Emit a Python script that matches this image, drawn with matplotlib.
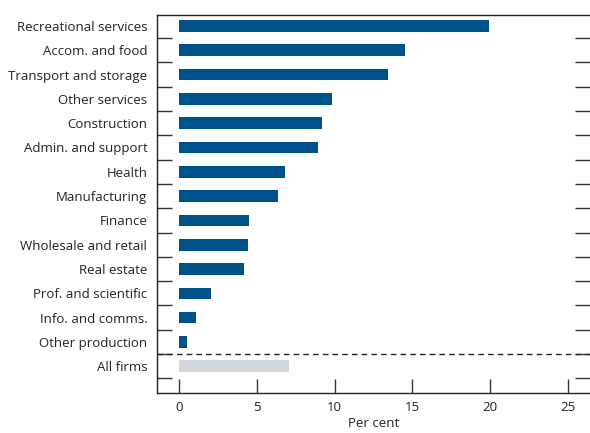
import matplotlib
matplotlib.use("Agg")
import matplotlib.pyplot as plt
import numpy as np

categories = ["Recreational services", "Accom. and food", "Transport and storage",
              "Other services", "Construction", "Admin. and support", "Health",
              "Manufacturing", "Finance", "Wholesale and retail", "Real estate",
              "Prof. and scientific", "Info. and comms.", "Other production", "All firms"]
values = [19.9, 14.5, 13.45, 9.85, 9.2, 8.95, 6.8, 6.35, 4.5, 4.45, 4.2, 2.05, 1.1, 0.5, 7.05]
xticks = [0, 5, 10, 15, 20, 25]

plt.rcParams['font.family'] = ['Open Sans', 'DejaVu Sans']

fig = plt.figure(figsize=(5.9, 4.33), dpi=100)
ax = fig.add_axes([157/590, 1-393/433, 1-157/590, (393-15)/433])

n = len(categories)
pos = np.arange(n)
colors = ['#00528A'] * (n - 1) + ['#D1D7DC']
ax.barh(pos, values, height=0.48, color=colors, zorder=2)

ax.set_ylim(n - 1 + 1.1, -0.45)
ax.set_xlim(-1.4, 26.4)

ax.set_yticks(pos, labels=categories)
ax.tick_params(axis='y', which='major', length=0, pad=7, labelsize=9.5, colors='#222222')
ax.set_yticks(pos + 0.5, minor=True)
ax.tick_params(axis='y', which='minor', direction='in', length=11, width=1.0,
               left=True, right=True, color='#333333')

ax.set_xticks(xticks)
ax.set_xticklabels([str(t) for t in xticks])
ax.tick_params(axis='x', direction='in', length=10, width=1.0, labelsize=9.5,
               pad=6, colors='#222222', color='#333333')
ax.set_xlabel('Per cent', fontsize=9.5, color='#222222', labelpad=2)

ax.axhline(n - 1.5, color='#222222', lw=1.0, ls=(0, (4, 3)), zorder=3)

for s in ['left', 'bottom', 'top']:
    ax.spines[s].set_linewidth(1.0)
    ax.spines[s].set_color('#222222')
ax.spines['right'].set_visible(False)

fig.savefig('out.png', dpi=100)
